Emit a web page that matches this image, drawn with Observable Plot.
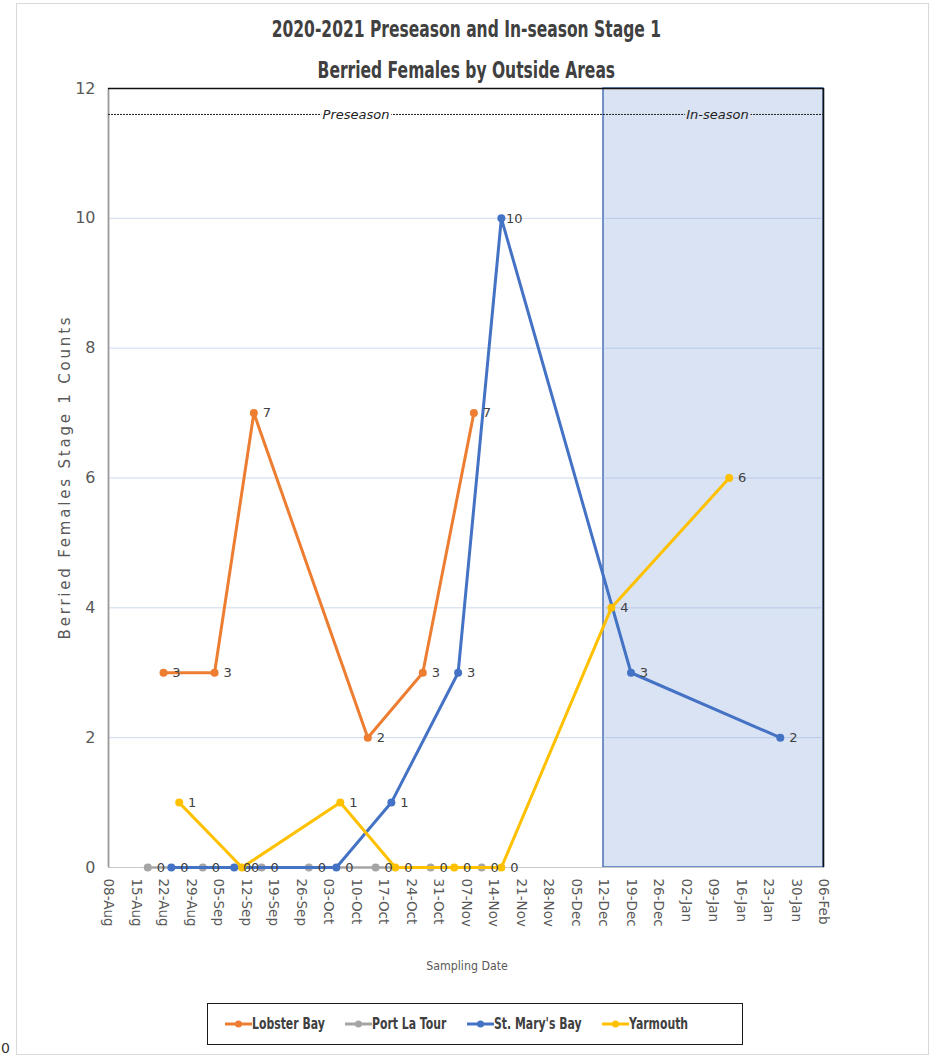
<!DOCTYPE html>
<html><head><meta charset="utf-8">
<script src="https://cdn.jsdelivr.net/npm/d3@7"></script>
<script src="https://cdn.jsdelivr.net/npm/@observablehq/plot@0.6"></script>
<style>
body{margin:0;background:#fff;}
#wrap{position:relative;width:934px;height:1058px;overflow:hidden;font-family:"DejaVu Sans",sans-serif;}
#frame{position:absolute;left:16px;top:3px;width:913px;height:1052px;border:1px solid #d9d9d9;box-sizing:border-box;}
#chart{position:absolute;left:0;top:0;}
.title{position:absolute;left:0;width:934px;text-align:center;font-weight:bold;font-size:23px;color:#404040;line-height:26px;white-space:nowrap;transform:scaleX(0.675);transform-origin:465px 0;}
#ylabel{position:absolute;left:65px;top:477px;transform:translate(-50%,-50%) rotate(-90deg);white-space:nowrap;font-size:15px;letter-spacing:2.8px;color:#595959;}
#xlabel{position:absolute;left:0;width:934px;top:958px;text-align:center;font-size:13px;color:#595959;transform:scaleX(0.85);transform-origin:467px 0;}
#legend{position:absolute;left:207px;top:1003px;width:536px;height:42px;border:1.5px solid #1a1a1a;box-sizing:border-box;}
.item{position:absolute;top:0;height:39px;display:flex;align-items:center;font-weight:bold;font-size:16px;color:#404040;white-space:nowrap;}
.item span{display:inline-block;transform:scaleX(0.68);transform-origin:0 50%;}
#stray{position:absolute;left:1px;top:1040px;font-size:14px;color:#333;}
</style></head>
<body>
<div id="wrap">
  <div id="frame"></div>
  <div id="chart"></div>
  <div class="title" style="top:16px">2020-2021 Preseason and In-season Stage 1</div>
  <div class="title" style="top:57px">Berried Females by Outside Areas</div>
  <div id="ylabel">Berried Females Stage 1 Counts</div>
  <div id="xlabel">Sampling Date</div>
  <div id="legend"></div>
  <div id="stray">0</div>
</div>
<script>
// ---- data ----
const seriesNames = ["Lobster Bay", "Port La Tour", "St. Mary's Bay", "Yarmouth"];
const seriesColors = ["#ed7d31", "#a5a5a5", "#4472c4", "#ffc000"];

const lobsterDates = ["2020-08-22","2020-09-04","2020-09-14","2020-10-13","2020-10-27","2020-11-09"];
const lobsterCounts = [3, 3, 7, 2, 3, 7];

const portDates = ["2020-08-18","2020-09-01","2020-09-16","2020-09-28","2020-10-15","2020-10-29","2020-11-11"];
const portCounts = [0, 0, 0, 0, 0, 0, 0];

const stmaryDates = ["2020-08-24","2020-09-09","2020-10-05","2020-10-19","2020-11-05","2020-11-16","2020-12-19","2021-01-26"];
const stmaryCounts = [0, 0, 0, 1, 3, 10, 3, 2];

const yarmouthDates = ["2020-08-26","2020-09-11","2020-10-06","2020-10-20","2020-11-04","2020-11-16","2020-12-14","2021-01-13"];
const yarmouthCounts = [1, 0, 1, 0, 0, 0, 4, 6];

const tickDates = ["2020-08-08","2020-08-15","2020-08-22","2020-08-29","2020-09-05","2020-09-12","2020-09-19","2020-09-26","2020-10-03","2020-10-10","2020-10-17","2020-10-24","2020-10-31","2020-11-07","2020-11-14","2020-11-21","2020-11-28","2020-12-05","2020-12-12","2020-12-19","2020-12-26","2021-01-02","2021-01-09","2021-01-16","2021-01-23","2021-01-30","2021-02-06"];
const tickLabels = ["08-Aug","15-Aug","22-Aug","29-Aug","05-Sep","12-Sep","19-Sep","26-Sep","03-Oct","10-Oct","17-Oct","24-Oct","31-Oct","07-Nov","14-Nov","21-Nov","28-Nov","05-Dec","12-Dec","19-Dec","26-Dec","02-Jan","09-Jan","16-Jan","23-Jan","30-Jan","06-Feb"];
const yTicks = [0, 2, 4, 6, 8, 10, 12];
const gridValues = [2, 4, 6, 8, 10];

const inSeasonStart = "2020-12-12";
const inSeasonEnd = "2021-02-06";
const seasonLabels = ["Preseason", "In-season"];
const seasonLabelDates = ["2020-10-10", "2021-01-10"];
const seasonLineValue = 11.6;

// ---- build ----
const parse = d3.utcParse("%Y-%m-%d");
const seriesDates = [lobsterDates, portDates, stmaryDates, yarmouthDates];
const seriesCounts = [lobsterCounts, portCounts, stmaryCounts, yarmouthCounts];
const rows = seriesNames.flatMap((name, s) =>
  seriesDates[s].map((d, i) => ({series: name, date: parse(d), count: seriesCounts[s][i]})));
const ticks = tickDates.map(parse);
const labelMap = new Map(ticks.map((t, i) => [+t, tickLabels[i]]));
const xStart = ticks[0], xEnd = ticks[ticks.length - 1];
const seasonRows = seasonLabels.map((t, i) => ({text: t, date: parse(seasonLabelDates[i]), bg: i === 0 ? "#ffffff" : "#dae3f3"}));

const font = "'DejaVu Sans',sans-serif";

const seriesMarks = seriesNames.flatMap((name, s) => {
  const data = rows.filter(r => r.series === name);
  return [
    Plot.line(data, {x: "date", y: "count", stroke: seriesColors[s], strokeWidth: s === 1 ? 2.5 : 3}),
    Plot.dot(data, {x: "date", y: "count", fill: seriesColors[s], r: 4})
  ];
});

const plot = Plot.plot({
  width: 934,
  height: 1058,
  marginLeft: 108,
  marginRight: 111,
  marginTop: 88,
  marginBottom: 191,
  style: {background: "transparent", fontFamily: font, overflow: "visible"},
  x: {type: "utc", domain: [xStart, xEnd]},
  y: {domain: [0, 12]},
  marks: [
    Plot.rect([{}], {x1: parse(inSeasonStart), x2: parse(inSeasonEnd), y1: 0, y2: 12, fill: "#dae3f3", stroke: "#4a72b8", strokeWidth: 1.5}),
    Plot.ruleY(gridValues, {stroke: "#8faadc", strokeOpacity: 0.45}),
    Plot.ruleY([0], {stroke: "#c8c8c8", strokeWidth: 1.2}),
    Plot.ruleX([xStart], {stroke: "#9a9a9a", strokeWidth: 1.8}),
    Plot.ruleY([12], {stroke: "#111", strokeWidth: 1.6}),
    Plot.ruleX([xEnd], {stroke: "#111", strokeWidth: 1.6}),
    Plot.ruleY([seasonLineValue], {stroke: "#222", strokeWidth: 1, strokeDasharray: "2,1"}),
    Plot.text(seasonRows, {x: "date", y: seasonLineValue, text: "text", fill: "#222", stroke: "bg", strokeWidth: 5, fontSize: 13, fontStyle: "italic"}),
    ...seriesMarks,
    Plot.text(rows, {x: "date", y: "count", text: d => String(d.count), dx: 13, fill: "#404040", fontSize: 13}),
    Plot.axisX({ticks: ticks, tickFormat: d => labelMap.get(+d), tickRotate: 90, tickSize: 0, tickPadding: 11, fontSize: 13.5, fill: "#595959", label: null}),
    Plot.axisY({ticks: yTicks, tickSize: 0, tickPadding: 13, fontSize: 16, fill: "#595959", label: null})
  ]
});
document.getElementById("chart").appendChild(plot);

// legend
const legend = document.getElementById("legend");
const legendLefts = [17, 137, 259, 394];
seriesNames.forEach((name, s) => {
  const item = document.createElement("div");
  item.className = "item";
  item.style.left = legendLefts[s] + "px";
  item.innerHTML = `<svg width="27" height="10"><line x1="0" y1="5" x2="27" y2="5" stroke="${seriesColors[s]}" stroke-width="3"/><circle cx="13.5" cy="5" r="3.5" fill="${seriesColors[s]}"/></svg><span>${name}</span>`;
  legend.appendChild(item);
});
</script>
</body></html>
